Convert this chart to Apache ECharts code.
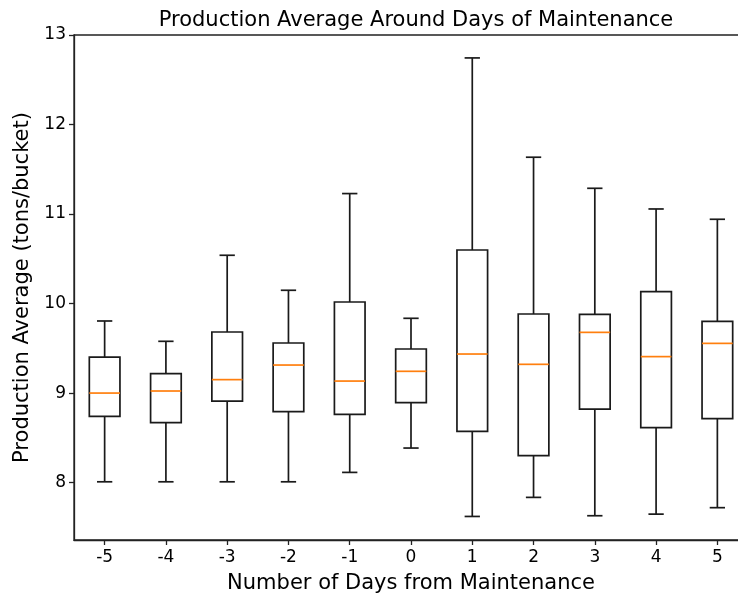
<!DOCTYPE html>
<html>
<head>
<meta charset="utf-8">
<script src="https://cdn.jsdelivr.net/npm/echarts@6/dist/echarts.min.js"></script>
<style>
html,body{margin:0;padding:0;background:#fff;}
#chart{width:738px;height:594px;}
</style>
</head>
<body>
<div id="chart"></div>
<script>
const categories = ['-5','-4','-3','-2','-1','0','1','2','3','4','5'];
const whiskerLow = [8.01, 8.01, 8.01, 8.01, 8.115, 8.387, 7.623, 7.836, 7.631, 7.649, 7.721];
const q1 =         [8.741, 8.670, 8.912, 8.793, 8.763, 8.894, 8.573, 8.302, 8.822, 8.614, 8.715];
const medians =    [9.001, 9.024, 9.151, 9.314, 9.135, 9.244, 9.437, 9.322, 9.679, 9.408, 9.556];
const q3 =         [9.403, 9.218, 9.683, 9.560, 10.018, 9.493, 10.599, 9.884, 9.880, 10.134, 9.802];
const whiskerHigh =[9.806, 9.579, 10.540, 10.149, 11.229, 9.836, 12.744, 11.635, 11.288, 11.057, 10.942];
const yTicks = [8, 9, 10, 11, 12, 13];

const data = categories.map((c, i) => [i, whiskerLow[i], q1[i], medians[i], q3[i], whiskerHigh[i]]);

const chart = echarts.init(document.getElementById('chart'), null, {renderer: 'canvas'});
const FONT = 'DejaVu Sans';

function renderItem(params, api) {
  const idx = api.value(0);
  const band = api.size([1, 0])[0];
  const boxW = band * 0.5;
  const capW = band * 0.25;
  const pLow = api.coord([idx, api.value(1)]);
  const pQ1 = api.coord([idx, api.value(2)]);
  const pMed = api.coord([idx, api.value(3)]);
  const pQ3 = api.coord([idx, api.value(4)]);
  const pHigh = api.coord([idx, api.value(5)]);
  const x = pQ1[0];
  const lw = 1.7;
  const black = '#1a1a1a';
  return {
    type: 'group',
    children: [
      {type: 'line', shape: {x1: x, y1: pLow[1], x2: x, y2: pQ1[1]}, style: {stroke: black, lineWidth: lw}},
      {type: 'line', shape: {x1: x, y1: pQ3[1], x2: x, y2: pHigh[1]}, style: {stroke: black, lineWidth: lw}},
      {type: 'line', shape: {x1: x - capW / 2, y1: pLow[1], x2: x + capW / 2, y2: pLow[1]}, style: {stroke: black, lineWidth: lw}},
      {type: 'line', shape: {x1: x - capW / 2, y1: pHigh[1], x2: x + capW / 2, y2: pHigh[1]}, style: {stroke: black, lineWidth: lw}},
      {type: 'rect', shape: {x: x - boxW / 2, y: pQ3[1], width: boxW, height: pQ1[1] - pQ3[1]}, style: {fill: 'none', stroke: black, lineWidth: lw}},
      {type: 'line', shape: {x1: x - boxW / 2, y1: pMed[1], x2: x + boxW / 2, y2: pMed[1]}, style: {stroke: '#ff7f0e', lineWidth: lw}}
    ]
  };
}

chart.setOption({
  animation: false,
  backgroundColor: '#fff',
  title: {
    text: 'Production Average Around Days of Maintenance',
    left: 411, top: 5, textAlign: 'center',
    textStyle: {fontFamily: FONT, fontSize: 21, fontWeight: 'normal', color: '#000'}
  },
  grid: {left: 74, top: 35, right: -10, bottom: 54, show: true, borderColor: '#222', borderWidth: 1.3, backgroundColor: 'transparent', containLabel: false, outerBoundsMode: 'none'},
  xAxis: {
    type: 'category',
    data: categories,
    boundaryGap: true,
    name: 'Number of Days from Maintenance',
    nameLocation: 'middle',
    nameGap: 33,
    nameTextStyle: {fontFamily: FONT, fontSize: 21, color: '#000'},
    axisLine: {show: true, lineStyle: {color: '#222', width: 1.3}},
    axisTick: {show: true, alignWithLabel: true, length: 5, lineStyle: {color: '#222', width: 1.3}},
    axisLabel: {fontFamily: FONT, fontSize: 17, color: '#000', margin: 9},
    splitLine: {show: false}
  },
  yAxis: {
    type: 'value',
    min: 7.36,
    max: 13.0,
    name: 'Production Average (tons/bucket)',
    nameLocation: 'middle',
    nameGap: 39,
    nameTextStyle: {fontFamily: FONT, fontSize: 21, color: '#000'},
    axisLine: {show: true, lineStyle: {color: '#222', width: 1.3}},
    axisTick: {show: true, length: 5, lineStyle: {color: '#222', width: 1.3}, customValues: yTicks},
    axisLabel: {fontFamily: FONT, fontSize: 17, color: '#000', margin: 8, customValues: yTicks},
    splitLine: {show: false}
  },
  series: [{
    type: 'custom',
    renderItem: renderItem,
    encode: {x: 0, y: [1, 2, 3, 4, 5]},
    data: data,
    clip: false
  }]
});
</script>
</body>
</html>
